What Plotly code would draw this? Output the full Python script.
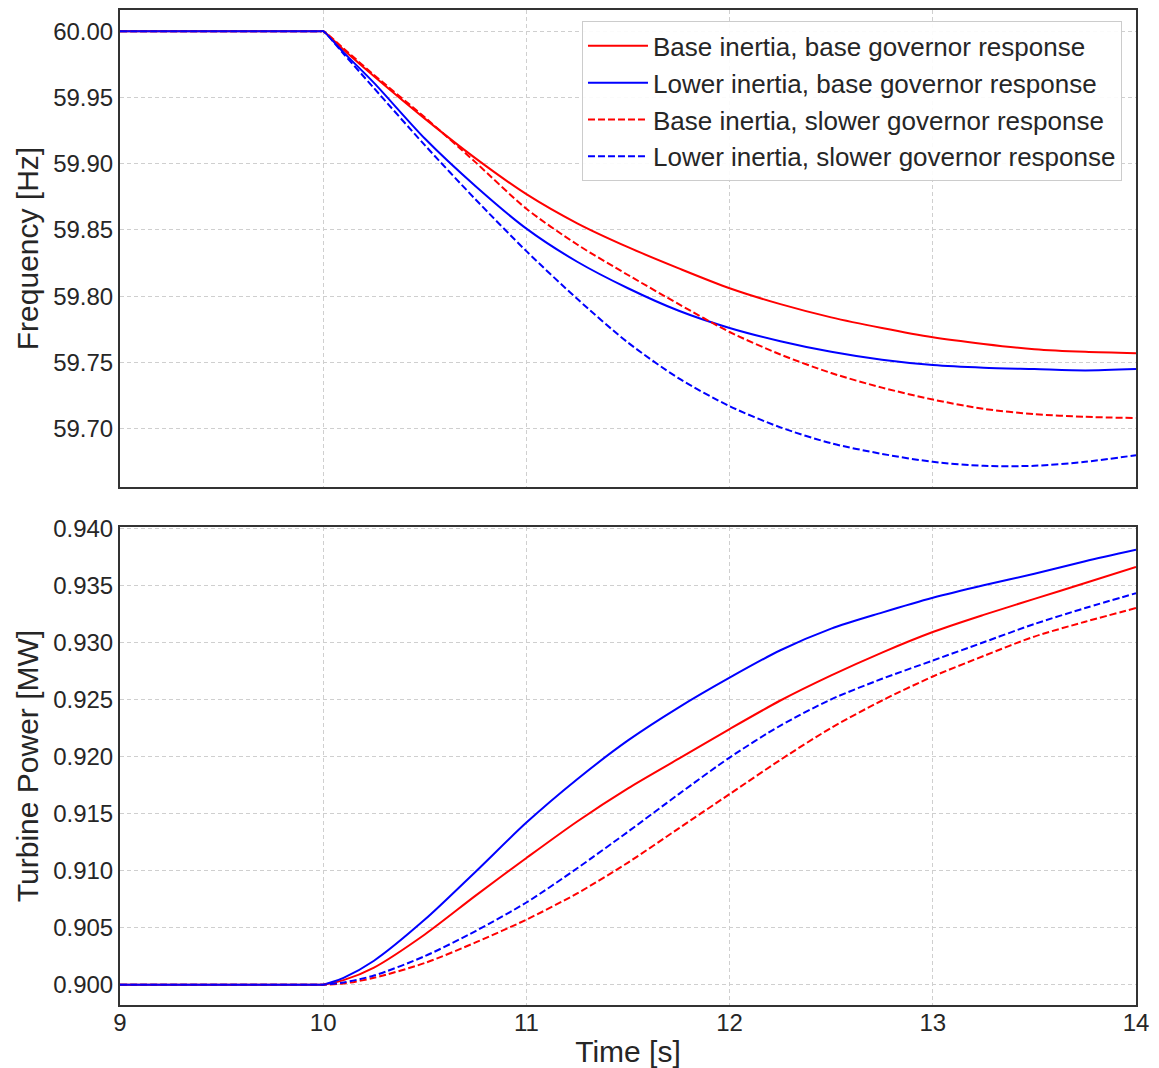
import plotly.graph_objects as go
from plotly.subplots import make_subplots

# ---- data ----
time_s = [9.0, 9.99, 10.0, 10.1, 10.25, 10.5, 10.75, 11.0, 11.25, 11.5, 11.75,
          12.0, 12.25, 12.5, 12.75, 13.0, 13.25, 13.5, 13.75, 14.0]

freq_base_inertia_base_gov = [60.000, 60.000, 60.000, 59.986, 59.966, 59.934, 59.904, 59.877, 59.855, 59.837, 59.821,
                              59.806, 59.794, 59.784, 59.776, 59.769, 59.764, 59.760, 59.758, 59.757]
freq_lower_inertia_base_gov = [60.000, 60.000, 60.000, 59.984, 59.961, 59.919, 59.883, 59.851, 59.826, 59.806, 59.789,
                               59.776, 59.766, 59.758, 59.752, 59.748, 59.746, 59.745, 59.744, 59.745]
freq_base_inertia_slow_gov = [60.000, 60.000, 60.000, 59.987, 59.967, 59.935, 59.901, 59.866, 59.839, 59.816, 59.794,
                              59.773, 59.756, 59.742, 59.731, 59.722, 59.715, 59.711, 59.709, 59.708]
freq_lower_inertia_slow_gov = [60.000, 60.000, 60.000, 59.983, 59.957, 59.914, 59.873, 59.834, 59.798, 59.765, 59.738,
                               59.717, 59.701, 59.689, 59.681, 59.675, 59.672, 59.672, 59.675, 59.680]

pow_base_inertia_base_gov = [0.900, 0.900, 0.900, 0.9004, 0.9015, 0.9044, 0.9078, 0.9111, 0.9143, 0.9172, 0.9198,
                             0.9224, 0.9249, 0.9271, 0.9291, 0.9309, 0.9324, 0.9338, 0.9352, 0.9366]
pow_lower_inertia_base_gov = [0.900, 0.900, 0.900, 0.9006, 0.9021, 0.9057, 0.9099, 0.9142, 0.9180, 0.9214, 0.9243,
                              0.9269, 0.9293, 0.9312, 0.9326, 0.9339, 0.9350, 0.9360, 0.9371, 0.9381]
pow_base_inertia_slow_gov = [0.900, 0.900, 0.900, 0.9001, 0.9006, 0.9019, 0.9037, 0.9057, 0.9080, 0.9107, 0.9137,
                             0.9167, 0.9197, 0.9225, 0.9249, 0.9270, 0.9288, 0.9305, 0.9318, 0.9330]
pow_lower_inertia_slow_gov = [0.900, 0.900, 0.900, 0.9002, 0.9008, 0.9025, 0.9047, 0.9072, 0.9102, 0.9134, 0.9167,
                              0.9199, 0.9227, 0.9250, 0.9268, 0.9284, 0.9300, 0.9316, 0.9330, 0.9343]

series_names = ["Base inertia, base governor response",
                "Lower inertia, base governor response",
                "Base inertia, slower governor response",
                "Lower inertia, slower governor response"]

freq_ticks = [59.70, 59.75, 59.80, 59.85, 59.90, 59.95, 60.00]
pow_ticks = [0.900, 0.905, 0.910, 0.915, 0.920, 0.925, 0.930, 0.935, 0.940]
time_ticks = [9, 10, 11, 12, 13, 14]

# ---- figure ----
fig = make_subplots(rows=2, cols=1, shared_xaxes=True, vertical_spacing=0.04)

styles = [("#ff0000", "solid"), ("#0000ff", "solid"), ("#ff0000", "7px,3px"), ("#0000ff", "7px,3px")]
freqs = [freq_base_inertia_base_gov, freq_lower_inertia_base_gov, freq_base_inertia_slow_gov, freq_lower_inertia_slow_gov]
pows = [pow_base_inertia_base_gov, pow_lower_inertia_base_gov, pow_base_inertia_slow_gov, pow_lower_inertia_slow_gov]

for i, (name, (col, dash), f, p) in enumerate(zip(series_names, styles, freqs, pows)):
    fig.add_trace(go.Scatter(x=time_s, y=f, mode="lines", name=name, legendgroup=f"g{i}",
                             line=dict(color=col, dash=dash, width=2, shape="spline", smoothing=0.8)),
                  row=1, col=1)
    fig.add_trace(go.Scatter(x=time_s, y=p, mode="lines", name=name, legendgroup=f"g{i}", showlegend=False,
                             line=dict(color=col, dash=dash, width=2, shape="spline", smoothing=0.8)),
                  row=2, col=1)

font_family = "Liberation Sans, Arial, sans-serif"
tick_font = dict(family=font_family, size=24, color="#262626")
title_font = dict(family=font_family, size=30, color="#262626")

axis_common = dict(showline=True, mirror=True, linecolor="#333333", linewidth=2,
                   showgrid=True, gridcolor="#cfcfcf", griddash="4px,3px", gridwidth=1,
                   ticks="", tickfont=tick_font, zeroline=False, automargin=False)

fig.update_xaxes(range=[9, 14], tickvals=time_ticks, **axis_common)
fig.update_xaxes(showticklabels=False, row=1, col=1)
fig.update_xaxes(title=dict(text="Time [s]", font=title_font, standoff=6),
                 ticklabelstandoff=-5, row=2, col=1)

fig.update_yaxes(range=[59.656, 60.016], tickvals=freq_ticks, tickformat=".2f",
                 title=dict(text="Frequency [Hz]", font=title_font, standoff=6),
                 row=1, col=1, **axis_common)
fig.update_yaxes(range=[0.89822, 0.9401], tickvals=pow_ticks, tickformat=".3f",
                 title=dict(text="Turbine Power [MW]", font=title_font, standoff=6),
                 row=2, col=1, **axis_common)

fig.update_layout(
    width=1159, height=1068,
    margin=dict(l=120, r=23, t=10, b=63),
    paper_bgcolor="white", plot_bgcolor="white",
    font=dict(family=font_family, color="#262626"),
    xaxis=dict(domain=[0, 1]),
    yaxis=dict(domain=[0.5206, 1.0]),
    yaxis2=dict(domain=[0.0, 0.4804]),
    legend=dict(x=0.9862, y=0.9885, xanchor="right", yanchor="top",
                bgcolor="rgba(255,255,255,0.9)", bordercolor="#cccccc", borderwidth=1,
                font=dict(family=font_family, size=26, color="#262626"),
                tracegroupgap=0, itemwidth=60),
    showlegend=True,
)

fig.write_html("out.html")
